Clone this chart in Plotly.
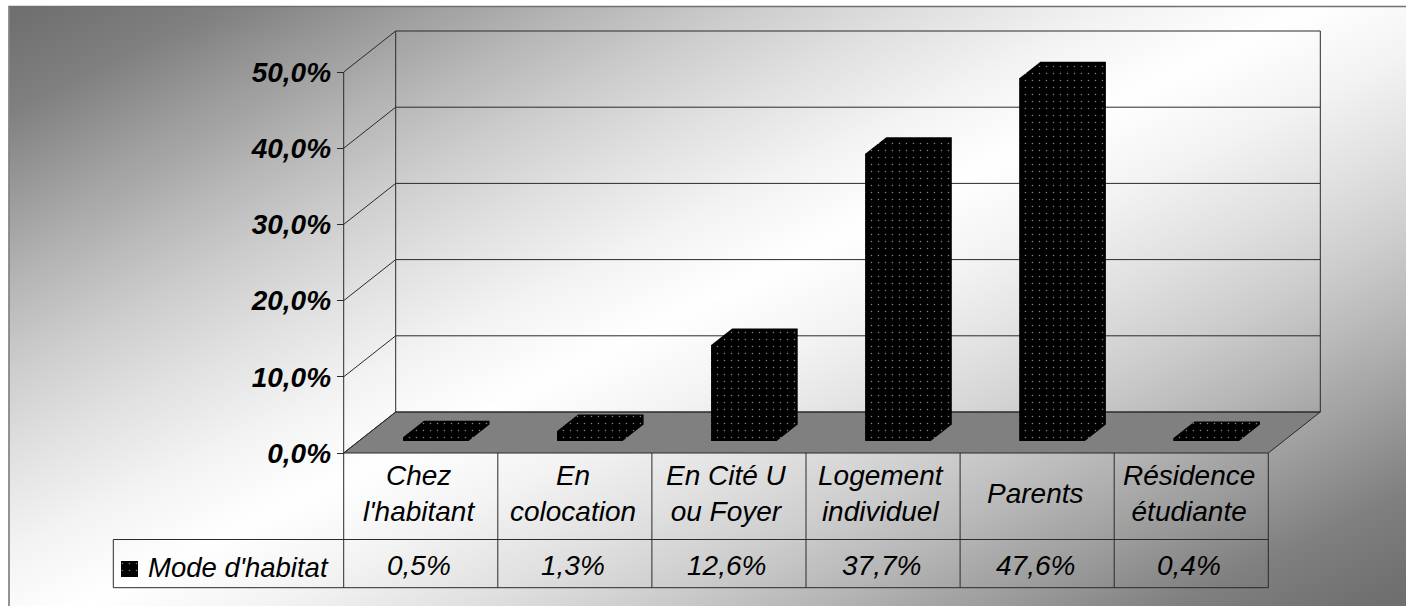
import numpy as np
import plotly.graph_objects as go

categories = ["Chez<br>l'habitant", "En<br>colocation", "En Cité U<br>ou Foyer",
              "Logement<br>individuel", "Parents", "Résidence<br>étudiante"]
values = [0.5, 1.3, 12.6, 37.7, 47.6, 0.4]
value_labels = ["0,5%", "1,3%", "12,6%", "37,7%", "47,6%", "0,4%"]
series_name = "Mode d'habitat"
axis_ticks = [0, 10, 20, 30, 40, 50]
axis_labels = ["0,0%", "10,0%", "20,0%", "30,0%", "40,0%", "50,0%"]

# background grey levels, by position along the diagonal
grad_pos = [0, 0.02, 0.09, 0.158, 0.185, 0.225, 0.29, 0.355, 0.43, 0.5]
grad_grey = [110, 112, 128, 156, 166, 182, 205, 224, 243, 255]

W, H = 1406, 606
X0_PX, CAT_PX = 343.7, 154.1   # front plane origin, width of one category
Y0_PX, PCT_PX = 453.0, 7.62    # front plane origin, pixels per percent
FONT = "Liberation Sans"


def ux(px):
    return (px - X0_PX) / CAT_PX


def uy(py):
    return (Y0_PX - py) / PCT_PX


# chart depth (walls) and bar depth, in axis units
DEPTH_X, DEPTH_Y = 52 / CAT_PX, 41 / PCT_PX
BAR_DX, BAR_DY = 21 / CAT_PX, 16.5 / PCT_PX
BAR_W = 65.5 / CAT_PX
BAR_SHIFT = 15 / CAT_PX
BAR_BASE = uy(441)
n = len(categories)
TOP = axis_ticks[-1]

fig = go.Figure()

# background gradient: near-white band across the diagonal, darker corners
gx = np.linspace(9.5, W, 201)   # cell edges
gy = np.linspace(6.5, H, 101)
cx, cy = np.meshgrid((gx[:-1] + gx[1:]) / 2, (gy[:-1] + gy[1:]) / 2)
pos = 0.53 * cx / W + 0.47 * cy / H
grey = np.interp(np.minimum(pos, 1 - pos), grad_pos, grad_grey)
fig.add_trace(go.Heatmap(x=ux(gx), y=uy(gy), z=grey, zmin=0, zmax=255, zsmooth="best",
                         colorscale=[[0, "black"], [1, "white"]], showscale=False, hoverinfo="skip"))


def line(xs, ys, color="#2a2a2a", width=1):
    fig.add_trace(go.Scatter(x=xs, y=ys, mode="lines", line=dict(color=color, width=width),
                             showlegend=False, hoverinfo="skip"))


# outer frame
line([ux(W), ux(9), ux(9)], [uy(6.5), uy(6.5), uy(H)], color="#707070", width=1.5)

# floor
fig.add_trace(go.Scatter(x=[0, DEPTH_X, n + DEPTH_X, n, 0], y=[0, DEPTH_Y, DEPTH_Y, 0, 0],
                         mode="lines", fill="toself", fillcolor="#808080",
                         line=dict(color="#2a2a2a", width=1), showlegend=False, hoverinfo="skip"))

# walls and gridlines
grid_x, grid_y = [], []
for t in axis_ticks:
    grid_x += [0, DEPTH_X, n + DEPTH_X, None]
    grid_y += [t, t + DEPTH_Y, t + DEPTH_Y, None]
line(grid_x, grid_y)
line([0, 0], [0, TOP])
line([DEPTH_X, DEPTH_X], [DEPTH_Y, TOP + DEPTH_Y])
line([n + DEPTH_X, n + DEPTH_X], [DEPTH_Y, TOP + DEPTH_Y])

# data table
y_row1, y_row2 = uy(539.5), uy(587.7)
x_left = ux(113.3)
line([x_left, n], [y_row1, y_row1])
line([x_left, n], [y_row2, y_row2])
line([x_left, x_left], [y_row1, y_row2])
for i in range(n + 1):
    line([i, i], [0, y_row2])

# bars: front faces, then the whole 3D outline on the overlay axes
dots = dict(shape=".", fgcolor="white", bgcolor="black", size=7, solidity=0.04)
centers = [i + 0.5 + BAR_SHIFT for i in range(n)]
fig.add_trace(go.Bar(x=centers, y=values, base=BAR_BASE, width=BAR_W, name=series_name,
                     marker=dict(color="black", line=dict(width=0), pattern=dots),
                     xaxis="x2", yaxis="y2", showlegend=False, hoverinfo="skip"))
outline_x, outline_y = [], []
for c, v in zip(centers, values):
    xl, xr = c - BAR_W / 2, c + BAR_W / 2
    top = BAR_BASE + v
    outline_x += [xl, xl, xl + BAR_DX, xr + BAR_DX, xr + BAR_DX, xr, xl, None]
    outline_y += [BAR_BASE, top, top + BAR_DY, top + BAR_DY, BAR_BASE + BAR_DY, BAR_BASE, BAR_BASE, None]
fig.add_trace(go.Scatter(x=outline_x, y=outline_y, mode="none", fill="toself", fillcolor="black",
                         fillpattern=dots, xaxis="x2", yaxis="y2", showlegend=False, hoverinfo="skip"))

# legend key in the table
sw_x = [ux(121), ux(138), ux(138), ux(121), ux(121)]
sw_y = [uy(561), uy(561), uy(577), uy(577), uy(561)]
fig.add_trace(go.Scatter(x=sw_x, y=sw_y, mode="none", fill="toself", fillcolor="black",
                         fillpattern=dots, xaxis="x2", yaxis="y2", showlegend=False, hoverinfo="skip"))

text_font = dict(family=FONT, size=28, color="black", style="italic")
annotations = []
for i, (cat, lab) in enumerate(zip(categories, value_labels)):
    annotations.append(dict(x=i + 0.5 - 2 / CAT_PX, y=uy(493.5), text=cat, showarrow=False, font=text_font,
                            xref="x", yref="y"))
    annotations.append(dict(x=i + 0.5 - 2 / CAT_PX, y=uy(565), text=lab, showarrow=False, font=text_font,
                            xref="x", yref="y"))
annotations.append(dict(x=ux(146), y=uy(567), text=series_name, showarrow=False, xanchor="left",
                        font=dict(text_font, size=27.5), xref="x", yref="y"))

x_range = [ux(0), ux(W)]
y_range = [uy(H), uy(0)]
fig.update_layout(
    width=W, height=H, autosize=False, margin=dict(l=0, r=0, t=0, b=0, pad=0),
    paper_bgcolor="white", plot_bgcolor="white", barmode="overlay", showlegend=False,
    annotations=annotations,
    xaxis=dict(range=x_range, visible=False, domain=[0, 1]),
    yaxis=dict(range=y_range, domain=[0, 1], anchor="free", position=X0_PX / W, side="left",
               tickvals=axis_ticks, ticktext=axis_labels, ticks="outside", ticklen=7, tickwidth=1,
               tickcolor="#2a2a2a", showgrid=False, zeroline=False, showline=False,
               tickfont=dict(family=FONT, size=28, color="black", weight="bold", style="italic")),
    xaxis2=dict(range=x_range, visible=False, overlaying="x"),
    yaxis2=dict(range=y_range, visible=False, overlaying="y"),
)

fig.write_html("out.html", config=dict(displayModeBar=False),
               post_script="document.body.style.margin='0';")
